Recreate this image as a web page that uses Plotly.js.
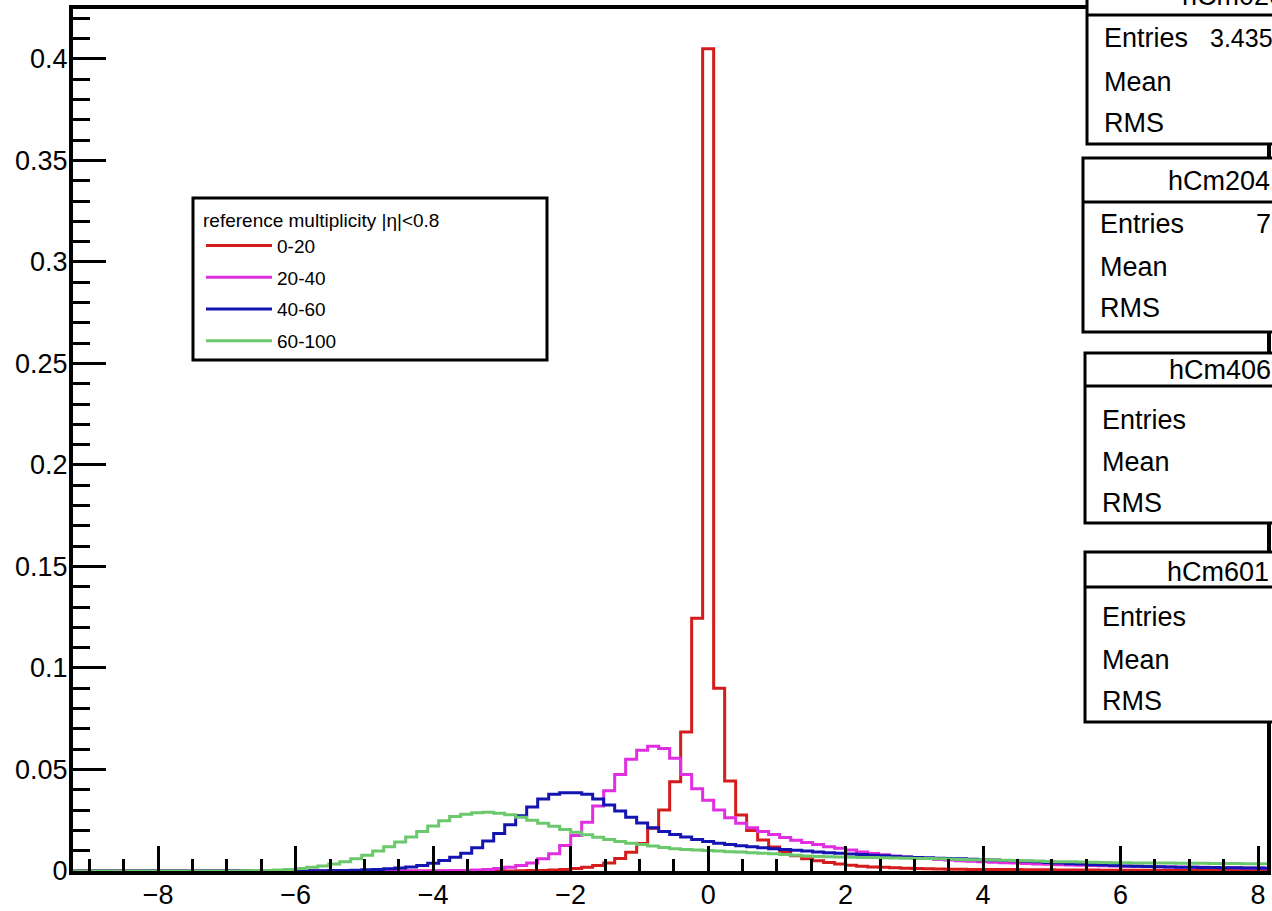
<!DOCTYPE html>
<html>
<head>
<meta charset="utf-8">
<script src="https://cdn.plot.ly/plotly-3.0.1.min.js"></script>
<style>
  html, body { margin: 0; padding: 0; background: #fff; overflow: hidden; }
  #chart { width: 1272px; height: 911px; }
</style>
</head>
<body>
<div id="chart"></div>
<script>
// ---- data: histogram bin centres (bin width 0.16) ----
const binCenters = [
  -9.28,-9.12,-8.96,-8.80,-8.64,-8.48,-8.32,-8.16,-8.00,-7.84,
  -7.68,-7.52,-7.36,-7.20,-7.04,-6.88,-6.72,-6.56,-6.40,-6.24,
  -6.08,-5.92,-5.76,-5.60,-5.44,-5.28,-5.12,-4.96,-4.80,-4.64,
  -4.48,-4.32,-4.16,-4.00,-3.84,-3.68,-3.52,-3.36,-3.20,-3.04,
  -2.88,-2.72,-2.56,-2.40,-2.24,-2.08,-1.92,-1.76,-1.60,-1.44,
  -1.28,-1.12,-0.96,-0.80,-0.64,-0.48,-0.32,-0.16,0.00,0.16,
  0.32,0.48,0.64,0.80,0.96,1.12,1.28,1.44,1.60,1.76,
  1.92,2.08,2.24,2.40,2.56,2.72,2.88,3.04,3.20,3.36,
  3.52,3.68,3.84,4.00,4.16,4.32,4.48,4.64,4.80,4.96,
  5.12,5.28,5.44,5.60,5.76,5.92,6.08,6.24,6.40,6.56,
  6.72,6.88,7.04,7.20,7.36,7.52,7.68,7.84,8.00,8.16,
  8.32
];

const seriesNames = ["0-20", "20-40", "40-60", "60-100"];

const mult0to20 = [
  0,0,0,0,0,0,0,0,0,0,
  0,0,0,0,0,0,0,0,0,0,
  0,0,0,0,0,0,0,0,0,0,
  0,0,0,0,0,0,0,0,0,0,
  0,0.0001,0.0002,0.0003,0.0005,0.0008,0.0012,0.0018,0.0027,0.004,
  0.0062,0.0092,0.0135,0.021,0.030,0.044,0.0685,0.1245,0.405,0.090,
  0.0443,0.0276,0.020,0.0153,0.0118,0.0095,0.0075,0.006,0.005,0.0042,
  0.0035,0.0028,0.0023,0.002,0.0018,0.0016,0.0014,0.0012,0.0011,0.001,
  0.0009,0.0009,0.0008,0.0008,0.0007,0.0007,0.0007,0.0006,0.0006,0.0006,
  0.0005,0.0005,0.0005,0.0005,0.0004,0.0004,0.0004,0.0004,0.0004,0.0003,
  0.0003,0.0003,0.0003,0.0003,0.0003,0.0003,0.0003,0.0003,0.0003,0.0003,
  0.0003
];

const mult20to40 = [
  0,0,0,0,0,0,0,0,0,0,
  0,0,0,0,0,0,0,0,0,0,
  0,0,0,0,0,0,0,0,0,0,
  0,0,0,0,0.0001,0.0002,0.0003,0.0005,0.0008,0.0012,
  0.0018,0.0027,0.004,0.006,0.0085,0.0125,0.0175,0.024,0.032,0.0395,
  0.0475,0.055,0.0595,0.0615,0.0603,0.0555,0.0475,0.0405,0.0348,0.030,
  0.0262,0.0235,0.0213,0.0195,0.018,0.0165,0.0152,0.014,0.013,0.012,
  0.0112,0.0103,0.0094,0.0086,0.008,0.0074,0.0069,0.0065,0.0061,0.0057,
  0.0054,0.0051,0.0048,0.0045,0.0043,0.0041,0.0039,0.0037,0.0035,0.0033,
  0.0031,0.003,0.0028,0.0027,0.0026,0.0025,0.0024,0.0023,0.0022,0.0021,
  0.002,0.0019,0.0018,0.0018,0.0017,0.0016,0.0016,0.0015,0.0015,0.0014,
  0.0014
];

const mult40to60 = [
  0,0,0,0,0,0,0,0,0,0,
  0,0,0,0,0,0,0,0,0,0,
  0,0,0.0001,0.0001,0.0002,0.0003,0.0004,0.0006,0.0008,0.0011,
  0.0015,0.002,0.0027,0.0038,0.0052,0.0068,0.0088,0.0115,0.0148,0.0185,
  0.0228,0.0272,0.0315,0.0355,0.0378,0.0385,0.0385,0.0378,0.0355,0.0325,
  0.0295,0.0265,0.0237,0.0213,0.0195,0.018,0.0167,0.0155,0.0145,0.0137,
  0.013,0.0124,0.0119,0.0114,0.011,0.0106,0.0102,0.0098,0.0094,0.009,
  0.0087,0.0084,0.0081,0.0078,0.0075,0.0072,0.0069,0.0067,0.0065,0.0063,
  0.0062,0.006,0.0058,0.0056,0.0054,0.0052,0.005,0.0048,0.0045,0.0042,
  0.0039,0.0036,0.0034,0.0031,0.0029,0.0027,0.0025,0.0023,0.0022,0.0021,
  0.002,0.0019,0.0018,0.0017,0.0017,0.0016,0.0016,0.0015,0.0015,0.0014,
  0.0014
];

const mult60to100 = [
  0,0,0,0,0,0,0,0,0,0,
  0,0,0,0,0,0,0.0001,0.0002,0.0003,0.0005,
  0.0008,0.0012,0.0018,0.0025,0.0034,0.0045,0.006,0.0078,0.0098,0.012,
  0.0143,0.0168,0.0195,0.0222,0.0248,0.0268,0.028,0.0287,0.0289,0.0285,
  0.0277,0.0265,0.025,0.0235,0.022,0.0205,0.0191,0.0178,0.0166,0.0155,
  0.0145,0.0137,0.013,0.0123,0.0116,0.011,0.0106,0.0103,0.0101,0.0098,
  0.0095,0.0093,0.009,0.0088,0.0085,0.0081,0.0077,0.0074,0.0072,0.007,
  0.0069,0.0068,0.0067,0.0066,0.0065,0.0064,0.0063,0.0062,0.0061,0.006,
  0.0059,0.0057,0.0056,0.0055,0.0054,0.0053,0.0052,0.0051,0.0049,0.0047,
  0.0046,0.0045,0.0044,0.0043,0.0042,0.0041,0.0041,0.004,0.004,0.0039,
  0.0039,0.0038,0.0038,0.0038,0.0037,0.0037,0.0037,0.0036,0.0036,0.0036,
  0.0035
];

const legendTitle = "reference multiplicity |η|<0.8";

// stat boxes (text as visible in the cropped reference)
const statTitles = ["hCm020", "hCm204", "hCm406", "hCm601"];
const statLabels = ["Entries", "Mean", "RMS"];
const statEntries = ["3.435", "7", "", ""];

// ---- styling ----
const FONT = "'Liberation Sans Narrow', 'Arial Narrow', 'Liberation Sans', Arial, sans-serif";
const colors = ["#d41c1c", "#e02ee0", "#1414b0", "#6cc86c"];
const allSeries = [mult0to20, mult20to40, mult40to60, mult60to100];

// plot-area geometry in pixels
const L = 73, R = 1267, T = 9, B = 871;
const px2x = p => (p - L) / (R - L);
const py2y = p => (B - p) / (B - T);

const traces = allSeries.map((vals, i) => ({
  type: "scatter",
  mode: "lines",
  x: binCenters,
  y: vals,
  name: seriesNames[i],
  legendgroup: "g" + i,
  line: { color: colors[i], width: 3, shape: "hvh" },
  hoverinfo: "skip"
}));

const shapes = [];
const annotations = [];

// legend frame
shapes.push({
  type: "rect", xref: "paper", yref: "paper", layer: "above",
  x0: px2x(193), x1: px2x(547), y0: py2y(360), y1: py2y(198),
  line: { color: "black", width: 3 }, fillcolor: "rgba(0,0,0,0)"
});

const STAT = 27;
// stat boxes
const boxes = [
  { left: 1087, top: -40, sep: 15, bottom: 144, titleX: 1180, titleY: -4, rows: [38, 82, 123], textX: 1102, entX: 1208, entSize: 25 },
  { left: 1083, top: 158, sep: 202, bottom: 332, titleX: 1166, titleY: 181, rows: [224, 267, 308], textX: 1098, entX: 1254, entSize: 27 },
  { left: 1085, top: 353, sep: 386, bottom: 523, titleX: 1167, titleY: 370, rows: [420, 462, 503], textX: 1100, entX: 1255, entSize: 27 },
  { left: 1085, top: 552, sep: 587, bottom: 722, titleX: 1165, titleY: 572, rows: [617, 660, 701], textX: 1100, entX: 1255, entSize: 27 }
];
boxes.forEach((b, k) => {
  shapes.push({
    type: "rect", xref: "paper", yref: "paper", layer: "above",
    x0: px2x(b.left), x1: px2x(1420), y0: py2y(b.bottom), y1: py2y(b.top),
    line: { color: "black", width: 3 }, fillcolor: "white"
  });
  shapes.push({
    type: "line", xref: "paper", yref: "paper", layer: "above",
    x0: px2x(b.left), x1: px2x(1420), y0: py2y(b.sep), y1: py2y(b.sep),
    line: { color: "black", width: 3 }
  });
  annotations.push({
    xref: "paper", yref: "paper", x: px2x(b.titleX), y: py2y(b.titleY),
    xanchor: "left", yanchor: "middle", showarrow: false,
    text: statTitles[k], font: { family: FONT, size: STAT, color: "black" }
  });
  statLabels.forEach((lab, r) => {
    annotations.push({
      xref: "paper", yref: "paper", x: px2x(b.textX), y: py2y(b.rows[r]),
      xanchor: "left", yanchor: "middle", showarrow: false,
      text: lab, font: { family: FONT, size: STAT, color: "black" }
    });
  });
  if (statEntries[k]) {
    annotations.push({
      xref: "paper", yref: "paper", x: px2x(b.entX), y: py2y(b.rows[0]),
      xanchor: "left", yanchor: "middle", showarrow: false,
      text: statEntries[k], font: { family: FONT, size: b.entSize, color: "black" }
    });
  }
});

const layout = {
  width: 1272, height: 911,
  margin: { l: L, r: 1272 - R, t: T, b: 911 - B, pad: 0 },
  paper_bgcolor: "white", plot_bgcolor: "white",
  font: { family: FONT, color: "black" },
  showlegend: true,
  legend: {
    x: px2x(201), y: py2y(202), xanchor: "left", yanchor: "top",
    bgcolor: "rgba(0,0,0,0)", borderwidth: 0,
    font: { family: FONT, size: 19, color: "black" },
    title: { text: legendTitle, font: { family: FONT, size: 19, color: "black" } },
    traceorder: "grouped", tracegroupgap: 4, itemwidth: 66
  },
  xaxis: {
    range: [-9.24, 8.13], showgrid: false, zeroline: false,
    showline: true, linecolor: "black", linewidth: 4, mirror: true,
    ticks: "inside", tickmode: "linear", tick0: 0, dtick: 2,
    ticklen: 25, tickwidth: 3, tickcolor: "black",
    minor: { ticks: "inside", dtick: 0.5, tick0: 0, ticklen: 12, tickwidth: 3, tickcolor: "black", showgrid: false },
    tickfont: { family: FONT, size: 27, color: "black" },
    ticklabelstandoff: -3
  },
  yaxis: {
    range: [0, 0.4246], showgrid: false, zeroline: false,
    showline: true, linecolor: "black", linewidth: 4, mirror: true,
    ticks: "inside", tickmode: "linear", tick0: 0, dtick: 0.05,
    ticklen: 33, tickwidth: 3, tickcolor: "black",
    minor: { ticks: "inside", dtick: 0.01, tick0: 0, ticklen: 17, tickwidth: 3, tickcolor: "black", showgrid: false },
    tickfont: { family: FONT, size: 27, color: "black" },
    ticklabelstandoff: -4
  },
  shapes: shapes,
  annotations: annotations
};

Plotly.newPlot("chart", traces, layout, { displayModeBar: false, staticPlot: true });
</script>
</body>
</html>
